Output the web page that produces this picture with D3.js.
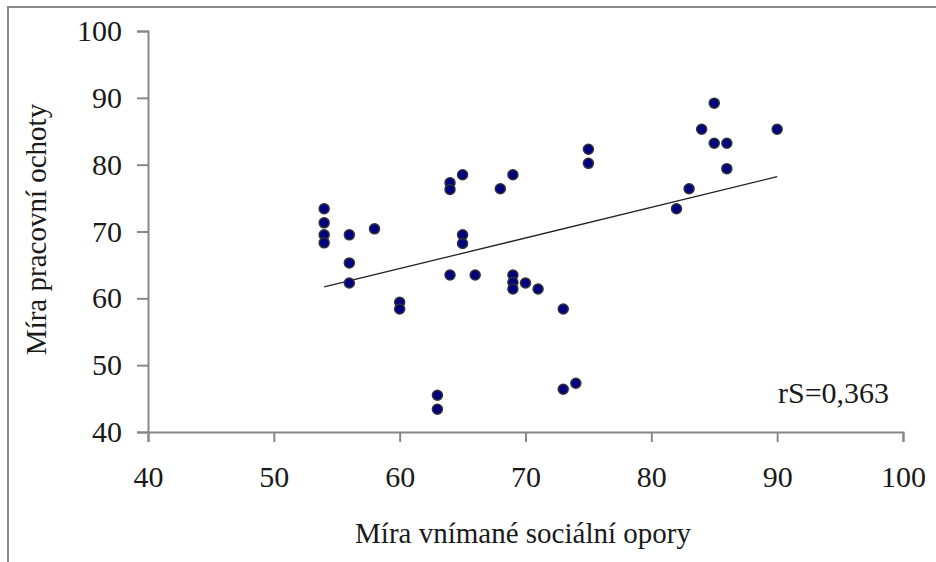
<!DOCTYPE html>
<html>
<head>
<meta charset="utf-8">
<script src="https://cdn.jsdelivr.net/npm/d3@7"></script>
<style>
  html, body { margin: 0; padding: 0; background: #fff; }
  svg { display: block; }
  text { font-family: "Liberation Serif", "Times New Roman", serif; fill: #1a1a1a; }
</style>
</head>
<body>
<svg id="chart" width="936" height="562"></svg>
<script>
// Data
const socialSupport = [54,54,54,54,56,56,56,58,60,60,63,63,64,64,64,65,65,65,66,68,69,69,69,69,70,71,73,73,74,75,75,82,83,84,85,85,86,86,90];
const workWillingness = [73.4,71.3,69.5,68.3,69.5,65.3,62.3,70.4,59.4,58.4,45.5,43.4,77.3,76.3,63.5,78.5,69.5,68.2,63.5,76.4,78.5,63.5,62.4,61.4,62.3,61.4,58.4,46.4,47.3,82.3,80.2,73.4,76.4,85.3,89.2,83.2,83.2,79.4,85.3];
const trendX = [54, 90];
const trendY = [61.7, 78.2];
const xTicks = [40,50,60,70,80,90,100];
const yTicks = [40,50,60,70,80,90,100];
const xTitle = "Míra vnímané sociální opory";
const yTitle = "Míra pracovní ochoty";
const annotation = "rS=0,363";

const svg = d3.select("#chart");
const pLeft = 148, pRight = 903, pTop = 31, pBottom = 432;
const x = d3.scaleLinear().domain([40,100]).range([pLeft, pRight]);
const y = d3.scaleLinear().domain([40,100]).range([pBottom, pTop]);
const tickFont = 30, titleFont = 29;

// outer frame (left + top)
svg.append("path")
  .attr("d", "M8,562 L8,7 L936,7")
  .attr("fill", "none").attr("stroke", "#888").attr("stroke-width", 2);

// axes
const xAxis = svg.append("g").attr("transform", `translate(0,${pBottom})`)
  .call(d3.axisBottom(x).tickValues(xTicks).tickSize(10).tickPadding(24).tickFormat(d3.format("d")));
const yAxis = svg.append("g").attr("transform", `translate(${pLeft},0)`)
  .call(d3.axisLeft(y).tickValues(yTicks).tickSize(11).tickPadding(15).tickFormat(d3.format("d")));
[xAxis, yAxis].forEach(g => {
  g.select(".domain").attr("stroke", "#888").attr("stroke-width", 2);
  g.selectAll(".tick line").attr("stroke", "#888").attr("stroke-width", 2);
  g.selectAll(".tick text").attr("font-size", tickFont)
    .attr("font-family", '"Liberation Serif", serif').attr("fill", "#1a1a1a");
});

// trend line
svg.append("line")
  .attr("x1", x(trendX[0])).attr("y1", y(trendY[0]))
  .attr("x2", x(trendX[1])).attr("y2", y(trendY[1]))
  .attr("stroke", "#222").attr("stroke-width", 1.3);

// points
svg.append("g").selectAll("circle")
  .data(socialSupport.map((v, i) => [v, workWillingness[i]]))
  .join("circle")
  .attr("cx", d => x(d[0])).attr("cy", d => y(d[1]))
  .attr("r", 5)
  .attr("fill", "#000080").attr("stroke", "#333").attr("stroke-width", 1.5);

// annotation
svg.append("text").attr("x", 778).attr("y", 403)
  .attr("font-size", tickFont).text(annotation);

// axis titles
svg.append("text").attr("x", 523).attr("y", 543)
  .attr("text-anchor", "middle").attr("font-size", titleFont).text(xTitle);
svg.append("text")
  .attr("transform", `translate(46,${(pTop + pBottom) / 2 - 2}) rotate(-90)`)
  .attr("text-anchor", "middle").attr("font-size", titleFont).text(yTitle);
</script>
</body>
</html>
